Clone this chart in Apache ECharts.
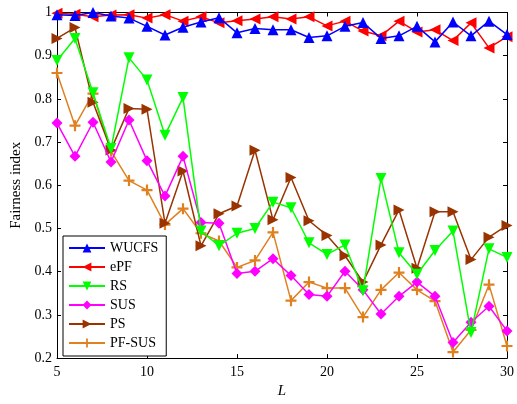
<!DOCTYPE html>
<html><head><meta charset="utf-8">
<script src="https://cdn.jsdelivr.net/npm/echarts@6/dist/echarts.min.js"></script>
<style>html,body{margin:0;padding:0;background:#fff}#c{width:517px;height:404px}</style>
</head><body><div id="c"></div>
<script>
const xs = [5,6,7,8,9,10,11,12,13,14,15,16,17,18,19,20,21,22,23,24,25,26,27,28,29,30];
const WUCFS = [0.995,0.993,1.0,0.992,0.987,0.968,0.948,0.966,0.978,0.988,0.953,0.963,0.96,0.96,0.942,0.946,0.968,0.977,0.94,0.946,0.968,0.932,0.978,0.946,0.98,0.949];
const ePF = [0.998,0.996,0.99,0.994,0.995,0.987,0.995,0.98,0.99,0.976,0.981,0.985,0.99,0.985,0.99,0.969,0.98,0.957,0.946,0.98,0.955,0.96,0.935,0.976,0.918,0.944];
const RS = [0.889,0.94,0.814,0.685,0.895,0.844,0.716,0.803,0.494,0.46,0.489,0.5,0.561,0.548,0.467,0.44,0.462,0.356,0.616,0.444,0.394,0.449,0.494,0.259,0.453,0.433];
const SUS = [0.744,0.667,0.746,0.654,0.751,0.657,0.575,0.667,0.514,0.512,0.396,0.401,0.43,0.391,0.347,0.343,0.401,0.358,0.302,0.343,0.376,0.343,0.236,0.283,0.32,0.263];
const PS = [0.94,0.965,0.792,0.682,0.778,0.776,0.512,0.633,0.46,0.534,0.552,0.681,0.52,0.618,0.518,0.484,0.437,0.376,0.462,0.543,0.408,0.539,0.539,0.428,0.48,0.507];
const PFSUS = [0.86,0.738,0.812,0.679,0.611,0.589,0.509,0.546,0.489,0.471,0.41,0.426,0.491,0.333,0.376,0.362,0.362,0.295,0.358,0.398,0.358,0.332,0.214,0.265,0.37,0.228];
const names = ['WUCFS','ePF','RS','SUS','PS','PF-SUS'];
const yTicks = [0.2,0.3,0.4,0.5,0.6,0.7,0.8,0.9,1];

const font = 'Liberation Serif';
const plus = 'path://M4,0 H6 V4 H10 V6 H6 V10 H4 V6 H0 V4 H4 Z';
const defs = [
  {d: WUCFS, c: '#0000ff', s: 'triangle', r: 0, size: 11},
  {d: ePF, c: '#ff0000', s: 'triangle', r: 90, size: 11},
  {d: RS, c: '#00ff00', s: 'triangle', r: 180, size: 11},
  {d: SUS, c: '#ff00ff', s: 'diamond', r: 0, size: 11},
  {d: PS, c: '#993300', s: 'triangle', r: -90, size: 11},
  {d: PFSUS, c: '#e08020', s: plus, r: 0, size: 11}
];
const series = defs.map((o,i)=>({
  name: names[i], type: 'line', xAxisIndex: 0, yAxisIndex: 0,
  data: xs.map((x,j)=>[x,o.d[j]]),
  symbol: o.s, symbolRotate: o.r, symbolSize: o.size, showAllSymbol: true,
  lineStyle: {color: o.c, width: 1.5}, itemStyle: {color: o.c},
  animation: false, z: 10 - i
}));
const chart = echarts.init(document.getElementById('c'));
const axLine = {show: true, lineStyle: {color: '#000', width: 1}};
chart.setOption({
  backgroundColor: '#fff',
  grid: {left: 57, right: 9, top: 12.5, bottom: 41, containLabel: false},
  legend: {
    orient: 'vertical', left: 63, top: 236, data: names,
    itemWidth: 36, itemHeight: 11, itemGap: 5,
    padding: [5, 8, 6, 5],
    borderColor: '#000', borderWidth: 1, backgroundColor: '#fff',
    textStyle: {fontFamily: font, fontSize: 14, color: '#000'}
  },
  xAxis: [
    {type: 'value', min: 5, max: 30, interval: 5, position: 'bottom',
     axisLine: axLine, axisTick: {show: true, inside: true, length: 4, lineStyle: {color: '#000'}},
     axisLabel: {fontFamily: font, fontSize: 14, color: '#000', margin: 7},
     splitLine: {show: false},
     name: 'L', nameLocation: 'middle', nameGap: 22,
     nameTextStyle: {fontFamily: font, fontSize: 15, fontStyle: 'italic', color: '#000'}},
    {type: 'value', min: 5, max: 30, interval: 5, position: 'top',
     axisLine: axLine, axisTick: {show: true, inside: true, length: 4, lineStyle: {color: '#000'}},
     axisLabel: {show: false}, splitLine: {show: false}}
  ],
  yAxis: [
    {type: 'value', min: 0.2, max: 1, interval: 0.1, position: 'left',
     axisLine: axLine, axisTick: {show: true, inside: true, length: 4, lineStyle: {color: '#000'}},
     axisLabel: {fontFamily: font, fontSize: 14, color: '#000', margin: 5,
       formatter: v => { const t = yTicks.find(k => Math.abs(k - v) < 1e-6); return t === undefined ? '' : String(t); }},
     splitLine: {show: false},
     name: 'Fairness index', nameLocation: 'middle', nameGap: 33, nameRotate: 90,
     nameTextStyle: {fontFamily: font, fontSize: 15, color: '#000'}},
    {type: 'value', min: 0.2, max: 1, interval: 0.1, position: 'right',
     axisLine: axLine, axisTick: {show: true, inside: true, length: 4, lineStyle: {color: '#000'}},
     axisLabel: {show: false}, splitLine: {show: false}}
  ],
  series: series
});
</script></body></html>
